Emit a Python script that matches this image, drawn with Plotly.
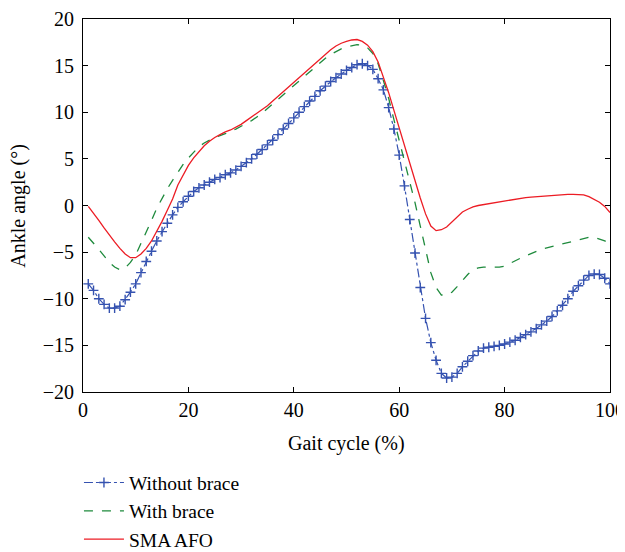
import plotly.graph_objects as go

gait = list(range(1, 101))

without_brace = [
    -8.4, -9.1, -10.0, -10.6, -11.0, -11.0, -10.8, -10.1, -9.3, -8.4,
    -7.2, -6.0, -4.9, -3.8, -2.8, -1.9, -1.0, -0.2, 0.4, 1.0,
    1.5, 1.9, 2.2, 2.5, 2.8, 3.0, 3.3, 3.5, 3.8, 4.2,
    4.6, 5.0, 5.5, 6.0, 6.5, 7.0, 7.6, 8.2, 8.8, 9.4,
    10.0, 10.6, 11.2, 11.7, 12.3, 12.8, 13.3, 13.7, 14.1, 14.5,
    14.8, 15.1, 15.2, 15.0, 14.6, 13.6, 12.4, 10.5, 8.2, 5.4,
    2.1, -1.5, -5.1, -8.8, -12.1, -14.7, -16.6, -18.0, -18.5, -18.4,
    -18.0, -17.3, -16.7, -16.1, -15.6, -15.3, -15.2, -15.1, -15.0, -14.85,
    -14.65, -14.45, -14.15, -13.85, -13.55, -13.2, -12.8, -12.4, -11.9, -11.3,
    -10.7, -10.0, -9.2, -8.6, -8.0, -7.5, -7.35, -7.4, -7.8, -8.4,
]

with_brace = [
    -3.4, -4.0, -4.7, -5.4, -6.1, -6.6, -6.9, -6.7, -6.1, -5.3,
    -4.1, -2.9, -1.6, -0.3, 0.8, 1.8, 2.7, 3.6, 4.4, 5.1,
    5.7, 6.3, 6.7, 7.0, 7.3, 7.5, 7.7, 8.0, 8.2, 8.5,
    8.8, 9.1, 9.5, 9.9, 10.4, 10.9, 11.4, 11.9, 12.4, 12.9,
    13.4, 13.9, 14.4, 14.9, 15.4, 15.8, 16.2, 16.5, 16.8, 17.0,
    17.15, 17.25, 17.2, 16.9, 16.3, 15.2, 13.4, 11.5, 9.2, 7.0,
    4.7, 2.6, 0.3, -2.2, -4.8, -7.2, -8.8, -9.6, -9.6, -9.3,
    -8.7, -8.0, -7.4, -6.9, -6.7, -6.6, -6.6, -6.6, -6.6, -6.5,
    -6.2, -5.9, -5.65, -5.4, -5.15, -4.9, -4.7, -4.55, -4.4, -4.25,
    -4.1, -3.95, -3.8, -3.65, -3.5, -3.4, -3.4, -3.6, -3.8, -4.1,
]

sma_afo = [
    -0.1, -0.8, -1.6, -2.4, -3.2, -3.9, -4.6, -5.2, -5.6, -5.6,
    -5.2, -4.6, -3.8, -2.8, -1.7, -0.5, 0.7, 2.2, 3.3, 4.3,
    5.1, 5.8, 6.4, 6.9, 7.3, 7.6, 7.9, 8.1, 8.4, 8.7,
    9.1, 9.5, 9.9, 10.3, 10.7, 11.2, 11.7, 12.2, 12.7, 13.2,
    13.8, 14.3, 14.8, 15.3, 15.8, 16.3, 16.7, 17.1, 17.4, 17.6,
    17.75, 17.8, 17.6, 17.2, 16.5, 15.4, 13.8, 12.1, 10.2, 8.3,
    6.4, 4.5, 2.6, 0.8, -0.9, -2.2, -2.7, -2.6, -2.3, -1.8,
    -1.2, -0.7, -0.4, -0.15, 0.0, 0.1, 0.2, 0.3, 0.4, 0.5,
    0.6, 0.7, 0.75, 0.85, 0.9, 0.95, 1.0, 1.05, 1.1, 1.1,
    1.15, 1.2, 1.2, 1.2, 1.15, 0.95, 0.65, 0.35, -0.1, -0.75,
]

x_ticks = [0, 20, 40, 60, 80, 100]
y_ticks = [-20, -15, -10, -5, 0, 5, 10, 15, 20]
y_tick_text = ["\u221220", "\u221215", "\u221210", "\u22125", "0", "5", "10", "15", "20"]

FONT = "'Liberation Serif', 'Times New Roman', serif"
FS = 20

fig = go.Figure()
fig.add_trace(go.Scatter(
    x=gait, y=without_brace, name="Without brace", mode="lines+markers",
    line=dict(color="#3552b0", width=1.2, dash="dashdot"),
    marker=dict(symbol="cross-thin", size=7, line=dict(color="#3552b0", width=1.4)),
))
fig.add_trace(go.Scatter(
    x=gait, y=with_brace, name="With brace", mode="lines",
    line=dict(color="#1e8a3c", width=1.3, dash="dash"),
))
fig.add_trace(go.Scatter(
    x=gait, y=sma_afo, name="SMA AFO", mode="lines",
    line=dict(color="#ec1c24", width=1.3),
))

axis_common = dict(
    showline=True, linecolor="black", linewidth=1, mirror="ticks",
    ticks="inside", ticklen=5, tickcolor="black", showgrid=False, zeroline=False,
    tickfont=dict(family=FONT, size=FS, color="black"), automargin=False,
)

fig.update_layout(
    width=617, height=544,
    margin=dict(l=75, r=15, t=11, b=160, autoexpand=False),
    paper_bgcolor="white", plot_bgcolor="white",
    font=dict(family=FONT, size=FS, color="black"),
    xaxis=dict(range=[0, 100], tickvals=x_ticks, **axis_common),
    yaxis=dict(range=[-20, 20], tickvals=y_ticks, ticktext=y_tick_text,
               ticklabelstandoff=4, **axis_common),
    annotations=[
        dict(text="Gait cycle (%)", xref="paper", yref="paper", x=0.5, y=-0.137,
             xanchor="center", yanchor="middle", showarrow=False,
             font=dict(family=FONT, size=FS)),
        dict(text="Ankle angle (\u00b0)", xref="paper", yref="paper", x=-0.123, y=0.5,
             xanchor="center", yanchor="middle", showarrow=False, textangle=-90,
             font=dict(family=FONT, size=FS)),
    ],
    legend=dict(xref="container", yref="container", x=0.115, y=0.163,
                xanchor="left", yanchor="top",
                font=dict(family=FONT, size=19.5), bgcolor="rgba(0,0,0,0)",
                tracegroupgap=0, itemwidth=40),
    showlegend=True,
)

fig.write_html("out.html")
